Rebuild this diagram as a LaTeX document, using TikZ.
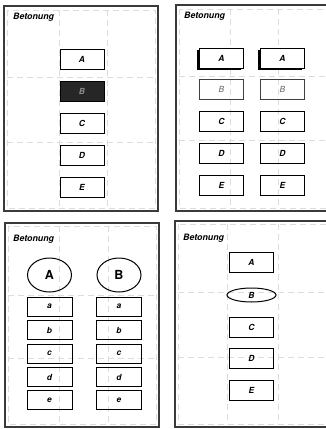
\documentclass[tikz,border=0pt]{standalone}
\usepackage{fontspec}
\setmainfont{TeX Gyre Heros}
\usetikzlibrary{shapes.geometric,shadows}
\definecolor{rasterGray}{HTML}{DCDCDC}
\definecolor{frameGray}{HTML}{3A3A3A}

\begin{document}
\begin{tikzpicture}[x=1pt,y=-1pt,
  frame/.style={draw=frameGray,line width=1.1pt},
  raster/.style={draw=rasterGray,line width=0.5pt,dash pattern=on 6pt off 4pt},
  titel/.style={anchor=west,inner sep=0pt,font=\fontsize{8.8}{10}\selectfont\bfseries\itshape},
  stichwort/.style={draw,line width=1pt,minimum width=44pt,minimum height=20pt,inner sep=0pt,font=\fontsize{8.4}{10}\selectfont\bfseries\itshape},
  klein/.style={stichwort,minimum width=45pt,minimum height=19pt},
  oval/.style={ellipse,draw,line width=1pt,inner sep=0pt}]
  \path[use as bounding box] (0,0) rectangle (326,429);
  % dashed layout raster
  \draw[raster] (7,10) rectangle (155,208);
  \foreach \xx in {59,107} \draw[raster] (\xx,10) -- (\xx,208);
  \foreach \yy in {77,142} \draw[raster] (7,\yy) -- (155,\yy);
  \draw[raster] (179,9) rectangle (332,208);
  \foreach \xx in {230,278} \draw[raster] (\xx,9) -- (\xx,208);
  \foreach \yy in {76,140} \draw[raster] (179,\yy) -- (332,\yy);
  \draw[raster] (8,226) rectangle (156,424);
  \foreach \xx in {59,108} \draw[raster] (\xx,226) -- (\xx,424);
  \foreach \yy in {295,358} \draw[raster] (8,\yy) -- (156,\yy);
  \draw[raster] (178,224) rectangle (332,424);
  \foreach \xx in {227,278} \draw[raster] (\xx,224) -- (\xx,424);
  \foreach \yy in {292,357} \draw[raster] (178,\yy) -- (332,\yy);
  % frames
  \draw[frame] (4,6) rectangle (158,211);
  \draw[frame] (176,5) rectangle (332,211);
  \draw[frame] (5,223) rectangle (159,427);
  \draw[frame] (175,221) rectangle (332,427);
  % panel 1: fill
  \node[titel] (t1) at (13,17) {Betonung};
  \node[stichwort] (p1A) at (82,59) {A};
  \node[stichwort,fill=black!85,text=black!45] (p1B) at (82,91) {B};
  \node[stichwort] (p1C) at (82,123) {C};
  \node[stichwort] (p1D) at (82,155) {D};
  \node[stichwort] (p1E) at (82,187) {E};
  % panel 2: shadow and weight
  \node[titel] (t2) at (184,16) {Betonung};
  \foreach \xx/\nm in {221.5/l,282.5/r} {
    \node[stichwort,drop shadow={shadow xshift=-2.2pt,shadow yshift=-2.2pt,fill=black,opacity=1},fill=white] (p2\nm A) at (\xx,58) {A};
    \node[stichwort,draw=black!75,line width=0.8pt,font=\fontsize{8.4}{10}\selectfont\itshape,text=black!60] (p2\nm B) at (\xx,89) {B};
    \node[stichwort] (p2\nm C) at (\xx,121) {C};
    \node[stichwort] (p2\nm D) at (\xx,153) {D};
    \node[stichwort] (p2\nm E) at (\xx,185) {E};
  }
  % panel 3: groups
  \node[titel] (t3) at (13,239) {Betonung};
  \foreach \xx/\gr in {49.5/A,119/B} {
    \node[oval,minimum width=44pt,minimum height=34pt,font=\fontsize{12.5}{14}\selectfont\bfseries] (p3\gr) at (\xx,275) {\gr};
    \node[klein] (p3\gr a) at (\xx,306.5) {a};
    \node[klein] (p3\gr b) at (\xx,330) {b};
    \node[klein] (p3\gr c) at (\xx,353.5) {c};
    \node[klein] (p3\gr d) at (\xx,377) {d};
    \node[klein] (p3\gr e) at (\xx,400) {e};
  }
  % panel 4: shape
  \node[titel] (t4) at (183,238) {Betonung};
  \node[stichwort] (p4A) at (251.5,262) {A};
  \node[oval,minimum width=49pt,minimum height=14pt,font=\fontsize{8.4}{10}\selectfont\bfseries\itshape] (p4B) at (251.5,295) {B};
  \node[stichwort] (p4C) at (251.5,327) {C};
  \node[stichwort] (p4D) at (251.5,358) {D};
  \node[stichwort] (p4E) at (251.5,390) {E};
\end{tikzpicture}
\end{document}
